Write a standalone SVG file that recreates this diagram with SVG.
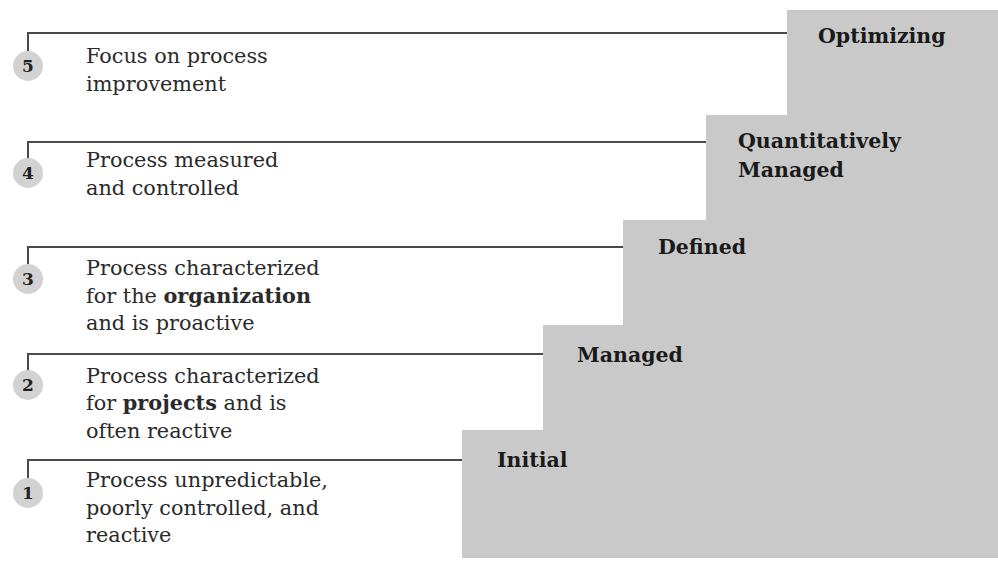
<svg xmlns="http://www.w3.org/2000/svg" width="998" height="561" viewBox="0 0 998 561">
<style>
.step{fill:#c9c9c9}
.conn{fill:none;stroke:#4a4a4a;stroke-width:2}
.badge{fill:#d2d2d2}
.num{font-family:"DejaVu Serif","Liberation Serif",serif;font-weight:bold;font-size:17px;fill:#222;text-anchor:middle}
.desc{font-family:"DejaVu Serif","Liberation Serif",serif;font-size:20.8px;fill:#2a2a2a}
.lvl{font-family:"DejaVu Serif","Liberation Serif",serif;font-weight:bold;font-size:20.5px;fill:#1a1a1a}
</style>
<rect width="998" height="561" fill="#fff"/>
<g id="stairs">
<path class="step" d="M787 10 H998 V558 H462 V430 H543 V325 H623 V220 H706 V115 H787 Z"/>
</g>
<g id="connectors">
<path class="conn" d="M28 51 V33 H787"/>
<path class="conn" d="M28 159 V142 H706"/>
<path class="conn" d="M28 264 V247 H623"/>
<path class="conn" d="M28 371 V354 H543"/>
<path class="conn" d="M28 478 V460 H462"/>
</g>
<g id="level5">
<circle class="badge" cx="28" cy="66" r="15"/>
<text class="num" x="28" y="72">5</text>
<text class="desc" x="86" y="63">Focus on process</text>
<text class="desc" x="86" y="91">improvement</text>
<text class="lvl" x="818" y="43">Optimizing</text>
</g>
<g id="level4">
<circle class="badge" cx="28" cy="173" r="15"/>
<text class="num" x="28" y="179">4</text>
<text class="desc" x="86" y="167">Process measured</text>
<text class="desc" x="86" y="195">and controlled</text>
<text class="lvl" x="738" y="148">Quantitatively</text>
<text class="lvl" x="738" y="177">Managed</text>
</g>
<g id="level3">
<circle class="badge" cx="28" cy="279" r="15"/>
<text class="num" x="28" y="285">3</text>
<text class="desc" x="86" y="275">Process characterized</text>
<text class="desc" x="86" y="303">for the <tspan font-weight="bold">organization</tspan></text>
<text class="desc" x="86" y="330">and is proactive</text>
<text class="lvl" x="658" y="254">Defined</text>
</g>
<g id="level2">
<circle class="badge" cx="28" cy="385" r="15"/>
<text class="num" x="28" y="391">2</text>
<text class="desc" x="86" y="383">Process characterized</text>
<text class="desc" x="86" y="410">for <tspan font-weight="bold">projects</tspan> and is</text>
<text class="desc" x="86" y="438">often reactive</text>
<text class="lvl" x="577" y="362">Managed</text>
</g>
<g id="level1">
<circle class="badge" cx="28" cy="493" r="15"/>
<text class="num" x="28" y="499">1</text>
<text class="desc" x="86" y="487">Process unpredictable,</text>
<text class="desc" x="86" y="515">poorly controlled, and</text>
<text class="desc" x="86" y="542">reactive</text>
<text class="lvl" x="497" y="467">Initial</text>
</g>
</svg>
